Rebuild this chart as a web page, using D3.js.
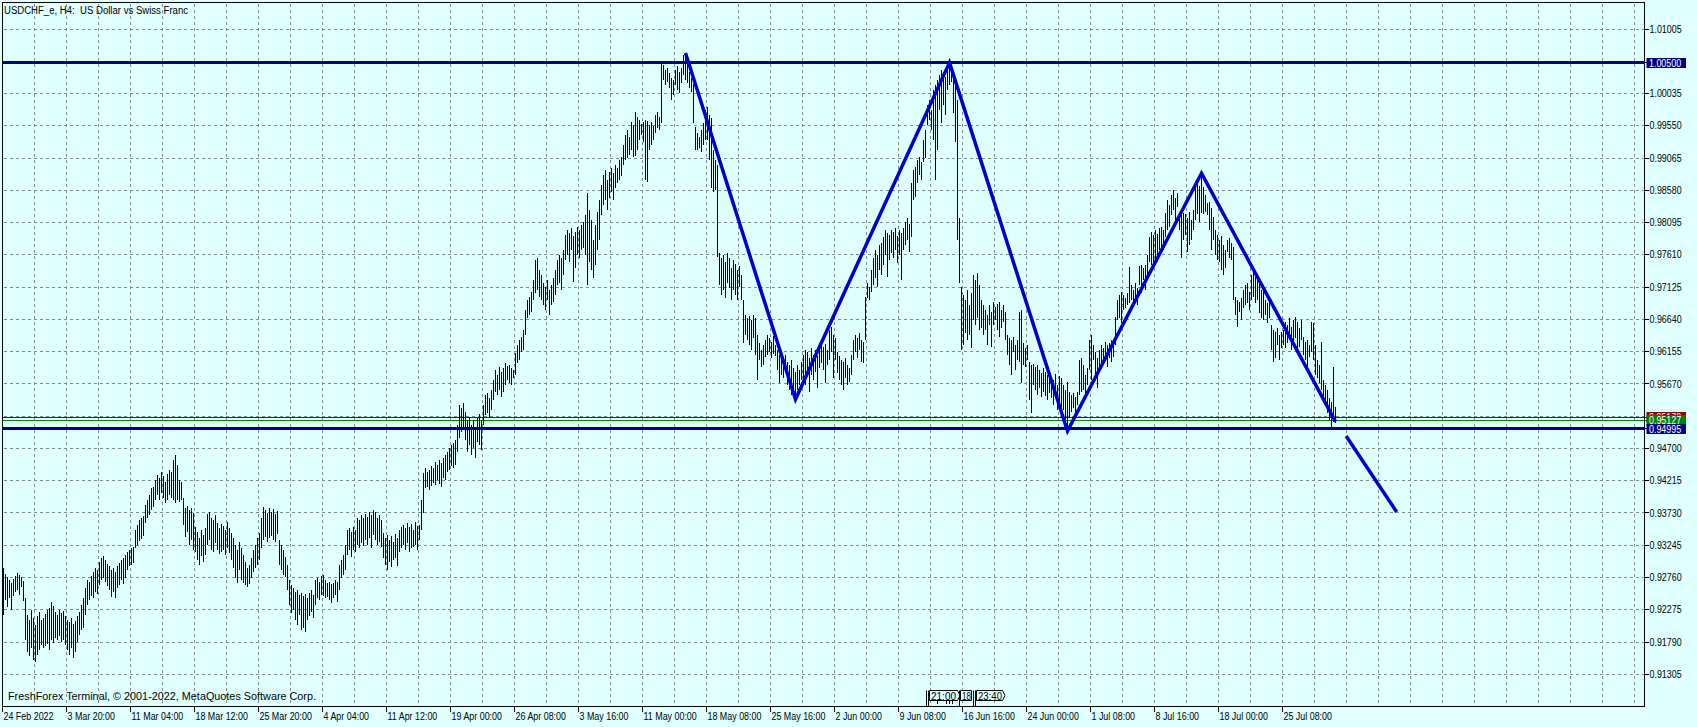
<!DOCTYPE html>
<html>
<head>
<meta charset="utf-8">
<script src="https://cdn.jsdelivr.net/npm/d3@7"></script>
<style>
html, body { margin: 0; padding: 0; background: #e0ffff; overflow: hidden; }
svg { display: block; }
text { font-family: "Liberation Sans", Arial, sans-serif; font-size: 10px; white-space: pre; }
</style>
</head>
<body>
<script>
const symbolTitle = "USDCHF_e, H4:  US Dollar vs Swiss Franc"
const copyright = "FreshForex Terminal, \u00a9 2001-2022, MetaQuotes Software Corp."

// one label every 32 H4 bars
const timeLabels = ["24 Feb 2022", "3 Mar 20:00", "11 Mar 04:00", "18 Mar 12:00", "25 Mar 20:00",
    "4 Apr 04:00", "11 Apr 12:00", "19 Apr 00:00", "26 Apr 08:00", "3 May 16:00", "11 May 00:00",
    "18 May 08:00", "25 May 16:00", "2 Jun 00:00", "9 Jun 08:00", "16 Jun 16:00", "24 Jun 00:00",
    "1 Jul 08:00", "8 Jul 16:00", "18 Jul 00:00", "25 Jul 08:00"]

const priceTicks = ["1.01005", "1.00520", "1.00035", "0.99550", "0.99065", "0.98580", "0.98095",
    "0.97610", "0.97125", "0.96640", "0.96155", "0.95670", "0.95185", "0.94700", "0.94215",
    "0.93730", "0.93245", "0.92760", "0.92275", "0.91790", "0.91305"]

// bar highs / lows in 1/10000 of a franc
const highs = [
    9290, 9281, 9277, 9272, 9268, 9274, 9278, 9283, 9280, 9277,
    9271, 9245, 9220, 9212, 9227, 9215, 9204, 9218, 9224, 9212,
    9215, 9221, 9227, 9230, 9239, 9233, 9224, 9220, 9227, 9223,
    9226, 9218, 9212, 9209, 9215, 9206, 9211, 9218, 9224, 9235,
    9245, 9260, 9272, 9269, 9278, 9284, 9290, 9287, 9299, 9305,
    9308, 9302, 9296, 9293, 9287, 9290, 9284, 9293, 9298, 9302,
    9305, 9310, 9314, 9317, 9320, 9322, 9347, 9355, 9362, 9365,
    9368, 9385, 9392, 9400, 9410, 9412, 9422, 9430, 9425, 9434,
    9428, 9419, 9431, 9437, 9434, 9452, 9460, 9445, 9422, 9419,
    9395, 9380, 9383, 9377, 9380, 9373, 9352, 9344, 9335, 9347,
    9340, 9350, 9371, 9374, 9365, 9362, 9370, 9358, 9350, 9356,
    9353, 9347, 9359, 9350, 9343, 9335, 9325, 9317, 9329, 9320,
    9310, 9299, 9290, 9295, 9305, 9317, 9325, 9335, 9343, 9365,
    9382, 9377, 9373, 9380, 9374, 9379, 9371, 9376, 9332, 9325,
    9317, 9307, 9295, 9272, 9265, 9260, 9254, 9257, 9250, 9253,
    9248, 9251, 9245, 9253, 9257, 9250, 9272, 9275, 9269, 9278,
    9280, 9272, 9268, 9269, 9266, 9268, 9272, 9269, 9295, 9302,
    9310, 9325, 9347, 9350, 9344, 9352, 9347, 9365, 9362, 9370,
    9365, 9371, 9367, 9374, 9370, 9377, 9374, 9365, 9370, 9362,
    9343, 9335, 9340, 9332, 9338, 9329, 9341, 9335, 9347, 9352,
    9355, 9350, 9358, 9352, 9356, 9347, 9359, 9353, 9355, 9392,
    9433, 9441, 9434, 9437, 9443, 9441, 9450, 9445, 9452, 9448,
    9456, 9460, 9465, 9471, 9475, 9478, 9483, 9505, 9535, 9531,
    9538, 9525, 9513, 9517, 9505, 9513, 9502, 9516, 9522, 9513,
    9535, 9550, 9553, 9546, 9558, 9573, 9588, 9580, 9592, 9585,
    9591, 9598, 9594, 9595, 9591, 9588, 9613, 9625, 9633, 9637,
    9648, 9678, 9693, 9697, 9705, 9723, 9753, 9757, 9738, 9731,
    9718, 9713, 9723, 9708, 9716, 9726, 9738, 9753, 9761, 9756,
    9768, 9791, 9798, 9794, 9801, 9789, 9795, 9803, 9798, 9806,
    9810, 9821, 9854, 9828, 9813, 9783, 9806, 9825, 9843, 9866,
    9881, 9888, 9873, 9885, 9891, 9884, 9896, 9891, 9903, 9908,
    9926, 9941, 9949, 9938, 9961, 9956, 9976, 9968, 9964, 9958,
    9961, 9964, 9962, 9956, 9961, 9955, 9971, 9976, 9968, 10049,
    10046, 10039, 10042, 10034, 10027, 10024, 10039, 10045, 10036, 10042,
    10061, 10064, 10058, 10036, 10027, 10018, 9953, 9944, 9938, 9949,
    9959, 9979, 9983, 9971, 9967, 9919, 9903, 9896, 9764, 9756,
    9761, 9750, 9764, 9756, 9741, 9753, 9747, 9738, 9744, 9731,
    9693, 9670, 9666, 9669, 9663, 9670, 9666, 9640, 9628, 9618,
    9625, 9633, 9640, 9636, 9630, 9639, 9625, 9618, 9610, 9615,
    9606, 9610, 9600, 9595, 9603, 9591, 9585, 9595, 9588, 9600,
    9610, 9618, 9615, 9606, 9621, 9610, 9618, 9609, 9625, 9628,
    9622, 9627, 9618, 9648, 9652, 9640, 9636, 9615, 9609, 9603,
    9600, 9606, 9595, 9591, 9610, 9633, 9640, 9636, 9643, 9633,
    9630, 9698, 9719, 9713, 9738, 9756, 9768, 9761, 9776, 9779,
    9788, 9798, 9794, 9791, 9798, 9795, 9801, 9789, 9798, 9794,
    9801, 9810, 9816, 9807, 9869, 9888, 9893, 9903, 9908, 9900,
    9934, 9949, 9986, 9994, 9979, 10009, 10016, 10024, 10031, 10039,
    10036, 10028, 10042, 10049, 10039, 10034, 10027, 9994, 9816, 9713,
    9700, 9693, 9708, 9685, 9704, 9731, 9723, 9734, 9716, 9693,
    9685, 9678, 9670, 9685, 9675, 9690, 9683, 9687, 9690, 9678,
    9685, 9675, 9640, 9636, 9633, 9637, 9625, 9633, 9675, 9678,
    9628, 9621, 9625, 9600, 9595, 9597, 9592, 9595, 9588, 9583,
    9591, 9585, 9580, 9588, 9576, 9573, 9582, 9565, 9579, 9576,
    9565, 9558, 9570, 9555, 9550, 9553, 9547, 9555, 9603, 9606,
    9595, 9580, 9591, 9633, 9640, 9625, 9615, 9606, 9618, 9625,
    9621, 9630, 9625, 9628, 9633, 9627, 9667, 9693, 9700, 9705,
    9701, 9696, 9704, 9743, 9716, 9708, 9719, 9711, 9744, 9746,
    9741, 9746, 9761, 9788, 9795, 9791, 9798, 9792, 9801, 9803,
    9798, 9824, 9843, 9836, 9851, 9858, 9846, 9854, 9825, 9821,
    9824, 9822, 9816, 9825, 9813, 9828, 9861, 9869, 9864, 9884,
    9863, 9851, 9839, 9840, 9831, 9818, 9798, 9791, 9783, 9789,
    9776, 9768, 9783, 9786, 9779, 9773, 9697, 9693, 9690, 9696,
    9708, 9716, 9719, 9705, 9731, 9735, 9728, 9732, 9723, 9708,
    9716, 9693, 9689, 9696, 9655, 9648, 9645, 9651, 9640, 9645,
    9648, 9660, 9655, 9666, 9652, 9663, 9667, 9660, 9651, 9663,
    9637, 9630, 9633, 9625, 9660, 9658, 9625, 9603, 9595, 9630,
    9573, 9565, 9558, 9546, 9540, 9592, 9532]

const lows = [
    9220, 9242, 9232, 9245, 9227, 9248, 9254, 9257, 9250, 9262,
    9241, 9182, 9164, 9158, 9170, 9152, 9149, 9159, 9167, 9174,
    9170, 9173, 9176, 9167, 9182, 9177, 9185, 9182, 9188, 9179,
    9182, 9174, 9167, 9159, 9170, 9155, 9164, 9179, 9189, 9197,
    9200, 9220, 9235, 9242, 9248, 9245, 9254, 9251, 9265, 9272,
    9275, 9269, 9263, 9257, 9247, 9254, 9245, 9260, 9265, 9272,
    9266, 9275, 9287, 9293, 9295, 9298, 9320, 9325, 9331, 9334,
    9338, 9358, 9365, 9370, 9377, 9382, 9392, 9400, 9392, 9403,
    9395, 9388, 9392, 9400, 9395, 9392, 9388, 9392, 9389, 9392,
    9355, 9337, 9344, 9325, 9332, 9317, 9314, 9302, 9295, 9308,
    9299, 9310, 9325, 9332, 9317, 9314, 9328, 9317, 9311, 9314,
    9317, 9310, 9320, 9313, 9302, 9290, 9275, 9268, 9287, 9272,
    9268, 9265, 9262, 9266, 9275, 9284, 9290, 9295, 9302, 9320,
    9332, 9337, 9329, 9335, 9338, 9332, 9329, 9341, 9295, 9287,
    9280, 9277, 9257, 9235, 9223, 9227, 9212, 9205, 9220, 9197,
    9200, 9194, 9212, 9218, 9224, 9215, 9235, 9245, 9242, 9250,
    9248, 9245, 9247, 9242, 9238, 9245, 9250, 9239, 9257, 9275,
    9280, 9287, 9310, 9317, 9307, 9317, 9314, 9325, 9320, 9328,
    9323, 9332, 9325, 9335, 9320, 9340, 9332, 9325, 9329, 9322,
    9305, 9295, 9287, 9299, 9292, 9302, 9305, 9293, 9314, 9320,
    9325, 9317, 9328, 9314, 9320, 9322, 9325, 9317, 9332, 9347,
    9373, 9410, 9412, 9407, 9413, 9418, 9415, 9422, 9416, 9412,
    9425, 9422, 9434, 9437, 9443, 9440, 9445, 9465, 9486, 9495,
    9498, 9483, 9465, 9475, 9460, 9471, 9456, 9480, 9475, 9468,
    9505, 9520, 9523, 9517, 9528, 9543, 9555, 9550, 9558, 9547,
    9555, 9565, 9573, 9568, 9565, 9576, 9580, 9598, 9603, 9615,
    9618, 9640, 9666, 9670, 9675, 9693, 9703, 9708, 9698, 9693,
    9686, 9678, 9693, 9670, 9686, 9690, 9700, 9716, 9719, 9708,
    9730, 9753, 9761, 9750, 9768, 9720, 9741, 9761, 9756, 9768,
    9771, 9761, 9716, 9750, 9738, 9726, 9746, 9768, 9783, 9821,
    9836, 9843, 9828, 9846, 9855, 9843, 9861, 9869, 9873, 9879,
    9896, 9903, 9906, 9911, 9919, 9908, 9909, 9919, 9934, 9941,
    9931, 9874, 9870, 9918, 9926, 9934, 9944, 9952, 9949, 9959,
    10024, 10016, 10021, 10012, 9994, 10001, 10016, 10009, 10004, 10019,
    10031, 10024, 10019, 10012, 10006, 9959, 9919, 9919, 9922, 9916,
    9926, 9934, 9934, 9903, 9861, 9855, 9858, 9758, 9716, 9701,
    9708, 9696, 9719, 9711, 9693, 9708, 9700, 9693, 9713, 9693,
    9628, 9640, 9633, 9625, 9618, 9636, 9610, 9573, 9603, 9592,
    9595, 9607, 9610, 9615, 9606, 9612, 9609, 9588, 9568, 9580,
    9576, 9585, 9565, 9558, 9550, 9555, 9544, 9558, 9565, 9573,
    9576, 9565, 9583, 9555, 9580, 9573, 9585, 9561, 9591, 9598,
    9588, 9568, 9595, 9603, 9615, 9576, 9603, 9583, 9573, 9565,
    9558, 9576, 9565, 9570, 9580, 9603, 9615, 9606, 9618, 9600,
    9598, 9633, 9696, 9693, 9705, 9716, 9726, 9713, 9738, 9731,
    9746, 9761, 9728, 9753, 9764, 9756, 9768, 9749, 9761, 9723,
    9768, 9776, 9783, 9765, 9788, 9843, 9848, 9869, 9881, 9873,
    9900, 9906, 9956, 9964, 9949, 9934, 9873, 9919, 9979, 9959,
    9986, 9971, 10009, 10016, 10021, 9974, 9931, 9783, 9719, 9618,
    9625, 9643, 9633, 9640, 9621, 9663, 9655, 9666, 9648, 9651,
    9640, 9648, 9625, 9655, 9622, 9655, 9663, 9648, 9637, 9651,
    9660, 9633, 9610, 9595, 9580, 9615, 9588, 9603, 9600, 9568,
    9595, 9592, 9603, 9543, 9523, 9565, 9558, 9550, 9561, 9547,
    9555, 9549, 9543, 9553, 9546, 9535, 9550, 9528, 9540, 9520,
    9528, 9513, 9498, 9516, 9525, 9531, 9520, 9535, 9550, 9555,
    9558, 9550, 9565, 9588, 9573, 9603, 9580, 9561, 9588, 9591,
    9600, 9603, 9592, 9606, 9600, 9607, 9625, 9663, 9666, 9658,
    9678, 9681, 9686, 9689, 9693, 9683, 9696, 9686, 9716, 9703,
    9723, 9708, 9731, 9750, 9746, 9743, 9753, 9750, 9768, 9771,
    9768, 9788, 9798, 9803, 9821, 9828, 9809, 9833, 9798, 9756,
    9783, 9791, 9765, 9776, 9783, 9798, 9813, 9822, 9810, 9824,
    9822, 9825, 9821, 9798, 9768, 9783, 9761, 9753, 9750, 9738,
    9731, 9741, 9765, 9756, 9753, 9693, 9670, 9652, 9675, 9663,
    9681, 9686, 9689, 9678, 9693, 9698, 9689, 9693, 9673, 9666,
    9663, 9670, 9658, 9666, 9618, 9600, 9606, 9625, 9603, 9621,
    9625, 9621, 9628, 9633, 9618, 9625, 9636, 9615, 9622, 9633,
    9610, 9603, 9592, 9607, 9615, 9603, 9580, 9576, 9568, 9558,
    9543, 9538, 9523, 9513, 9501, 9510, 9508]

// horizontal objects and current prices
const levelPrices = [1.00500, 0.94995]
const bidPrice = 0.95127
const askPrice = 0.95170

// zigzag trend lines: bar index / price
const zigzagBars = [341, 396, 473, 532, 599, 666]
const zigzagPrices = [1.00644, 0.95439, 1.00500, 0.94961, 0.98836, 0.95102]
const projectionBars = [671.3, 696.6]
const projectionPrices = [0.94887, 0.93745]

// event flags on the time axis
const eventBars = [461.3, 477.8, 484.5]
const eventTexts = ["21:00", "18", "23:40"]

if (highs.length !== lows.length) console.error("bar arrays differ", highs.length, lows.length)

const width = 1697
const height = 727
const plotL = 2.5, plotT = 2.5, plotR = 1644.5, plotB = 706.5

const bg = "#e0ffff"
const gridColor = "#7d8b8f"
const navy = "#000080"
const zigBlue = "#0000cd"

const x = d3.scaleLinear().domain([0, highs.length - 1]).range([3.5, 3.5 + 2 * (highs.length - 1)])
const y = d3.scaleLinear().domain([0.91305, 1.01005]).range([674.3, 29])
const crisp = v => Math.floor(v) + 0.5

const svg = d3.select("body").append("svg")
    .attr("width", width)
    .attr("height", height)

svg.append("rect").attr("width", width).attr("height", height).attr("fill", bg)

// grid
const grid = svg.append("g")
    .attr("stroke", gridColor)
    .attr("stroke-width", 1)
    .attr("stroke-dasharray", "3,3")
    .attr("shape-rendering", "crispEdges")

grid.selectAll("line.h")
    .data(priceTicks)
    .join("line")
    .attr("class", "h")
    .attr("x1", plotL + 1).attr("x2", plotR)
    .attr("y1", d => crisp(y(+d))).attr("y2", d => crisp(y(+d)))

const vGrid = d3.range(16, 2000, 16).filter(i => x(i) < plotR - 1)
grid.selectAll("line.v")
    .data(vGrid)
    .join("line")
    .attr("class", "v")
    .attr("x1", d => x(d) - 1).attr("x2", d => x(d) - 1)
    .attr("y1", plotT + 1).attr("y2", plotB)

// ask / bid lines
svg.append("line")
    .attr("x1", plotL).attr("x2", plotR)
    .attr("y1", crisp(y(askPrice))).attr("y2", crisp(y(askPrice)))
    .attr("stroke", "#8b0000").attr("shape-rendering", "crispEdges")
svg.append("line")
    .attr("x1", plotL).attr("x2", plotR)
    .attr("y1", crisp(y(bidPrice))).attr("y2", crisp(y(bidPrice)))
    .attr("stroke", "#008000").attr("shape-rendering", "crispEdges")

// price bars
const bars = highs.map((h, i) => ({ i, high: h / 10000, low: lows[i] / 10000 }))
svg.append("g")
    .attr("stroke", "#000")
    .attr("stroke-width", 1)
    .attr("shape-rendering", "crispEdges")
    .selectAll("line")
    .data(bars)
    .join("line")
    .attr("x1", d => x(d.i)).attr("x2", d => x(d.i))
    .attr("y1", d => Math.round(y(d.high)))
    .attr("y2", d => Math.max(Math.round(y(d.low)), Math.round(y(d.high)) + 1))

// horizontal levels
svg.append("g")
    .selectAll("line")
    .data(levelPrices)
    .join("line")
    .attr("x1", plotL).attr("x2", plotR)
    .attr("y1", d => crisp(y(d))).attr("y2", d => crisp(y(d)))
    .attr("stroke", navy).attr("stroke-width", 3)
    .attr("shape-rendering", "crispEdges")

// zigzag
const line = d3.line().x(d => x(d[0])).y(d => y(d[1]))
svg.append("path")
    .attr("d", line(zigzagBars.map((b, i) => [b, zigzagPrices[i]])))
    .attr("fill", "none").attr("stroke", zigBlue).attr("stroke-width", 3.5)
    .attr("stroke-linejoin", "miter").attr("stroke-miterlimit", 10)
svg.append("path")
    .attr("d", line(projectionBars.map((b, i) => [b, projectionPrices[i]])))
    .attr("fill", "none").attr("stroke", zigBlue).attr("stroke-width", 3.5)

// frame
svg.append("rect")
    .attr("x", plotL).attr("y", plotT)
    .attr("width", plotR - plotL).attr("height", plotB - plotT)
    .attr("fill", "none").attr("stroke", "#000").attr("shape-rendering", "crispEdges")

// right price axis
const hiddenNear = [...levelPrices, bidPrice, askPrice].map(p => y(p))
const shownTicks = priceTicks.filter(t => hiddenNear.every(v => Math.abs(y(+t) - v) > 6))
const axisR = svg.append("g")
axisR.selectAll("line")
    .data(shownTicks)
    .join("line")
    .attr("x1", plotR).attr("x2", plotR + 4.5)
    .attr("y1", d => crisp(y(+d))).attr("y2", d => crisp(y(+d)))
    .attr("stroke", "#000").attr("shape-rendering", "crispEdges")
axisR.selectAll("text")
    .data(shownTicks)
    .join("text")
    .attr("x", plotR + 5)
    .attr("y", d => y(+d) + 3.6)
    .attr("fill", "#000")
    .text(d => d)

// price tags
const tags = [
    { price: askPrice, color: "#8b0000" },
    { price: bidPrice, color: "#008000" },
    { price: levelPrices[1], color: navy },
    { price: levelPrices[0], color: navy }
]
const tagG = svg.append("g").selectAll("g").data(tags).join("g")
tagG.append("line")
    .attr("x1", plotR).attr("x2", plotR + 2.5)
    .attr("y1", d => crisp(y(d.price))).attr("y2", d => crisp(y(d.price)))
    .attr("stroke", d => d.color).attr("shape-rendering", "crispEdges")
tagG.append("rect")
    .attr("x", plotR + 2)
    .attr("y", d => Math.round(y(d.price)) - 5)
    .attr("width", 39.5).attr("height", 10)
    .attr("fill", d => d.color)
tagG.append("text")
    .attr("x", plotR + 4.5)
    .attr("y", d => Math.round(y(d.price)) + 3.8)
    .attr("fill", "#fff")
    .text(d => d.price.toFixed(5))

// time axis
const timeIdx = timeLabels.map((t, k) => ({ t, i: k * 32 }))
const axisB = svg.append("g")
axisB.selectAll("line")
    .data(timeIdx)
    .join("line")
    .attr("x1", d => x(d.i) - 1).attr("x2", d => x(d.i) - 1)
    .attr("y1", plotB).attr("y2", plotB + 5)
    .attr("stroke", "#000").attr("shape-rendering", "crispEdges")
axisB.selectAll("text")
    .data(timeIdx)
    .join("text")
    .attr("x", d => x(d.i))
    .attr("y", 719.5)
    .attr("fill", "#000")
    .text(d => d.t)

// narrow the glyphs a little, like the terminal font
svg.selectAll("g text").each(function () {
    const n = this.getComputedTextLength()
    d3.select(this).attr("textLength", n * 0.89).attr("lengthAdjust", "spacingAndGlyphs")
})

// event flags
const flags = svg.append("g").attr("stroke", "#000").attr("stroke-width", 1).attr("fill", bg)
const fx = eventBars.map(b => Math.round(x(b)))
flags.append("path").attr("fill", "none")
    .attr("d", `M${fx[0] + 0.5},690.5V706M${fx[0] + 2.5},690.5V706`)
flags.append("path")
    .attr("d", `M${fx[0] + 3.5},690.5H${fx[0] + 31.5}L${fx[0] + 34},695.5L${fx[0] + 31.5},700.5H${fx[0] + 3.5}Z`)
flags.append("path").attr("fill", "none")
    .attr("d", `M${fx[0] + 11.5},701V704M${fx[0] + 20.5},701V704M${fx[0] + 23.5},701V704M${fx[0] + 26.5},701V704`)
flags.append("path").attr("fill", "none")
    .attr("d", `M${fx[1] + 0.5},690.5V706`)
flags.append("path")
    .attr("d", `M${fx[1] + 1.5},690.5H${fx[1] + 12.5}V700.5H${fx[1] + 1.5}Z`)
flags.append("path").attr("fill", "none")
    .attr("d", `M${fx[2] + 0.5},690.5V706M${fx[2] + 2.5},690.5V706`)
flags.append("path")
    .attr("d", `M${fx[2] + 3.5},690.5H${fx[2] + 29.5}L${fx[2] + 32},695.5L${fx[2] + 29.5},700.5H${fx[2] + 3.5}Z`)
const flagText = svg.append("g").attr("class", "flagtext")
flagText.append("text").attr("x", fx[0] + 5).attr("y", 699.5).text(eventTexts[0])
    .attr("textLength", 25).attr("lengthAdjust", "spacingAndGlyphs")
flagText.append("text").attr("x", fx[1] + 3).attr("y", 699.5).text(eventTexts[1])
    .attr("textLength", 9).attr("lengthAdjust", "spacingAndGlyphs")
flagText.append("text").attr("x", fx[2] + 5).attr("y", 699.5).text(eventTexts[2])
    .attr("textLength", 24).attr("lengthAdjust", "spacingAndGlyphs")

// title and copyright
svg.append("text")
    .attr("x", 4).attr("y", 13.5)
    .attr("textLength", 184).attr("lengthAdjust", "spacingAndGlyphs")
    .text(symbolTitle)
svg.append("text")
    .attr("x", 8).attr("y", 699.5)
    .style("font-size", "10.5px")
    .attr("textLength", 308).attr("lengthAdjust", "spacingAndGlyphs")
    .attr("fill", "#000")
    .text(copyright)
</script>
</body>
</html>
